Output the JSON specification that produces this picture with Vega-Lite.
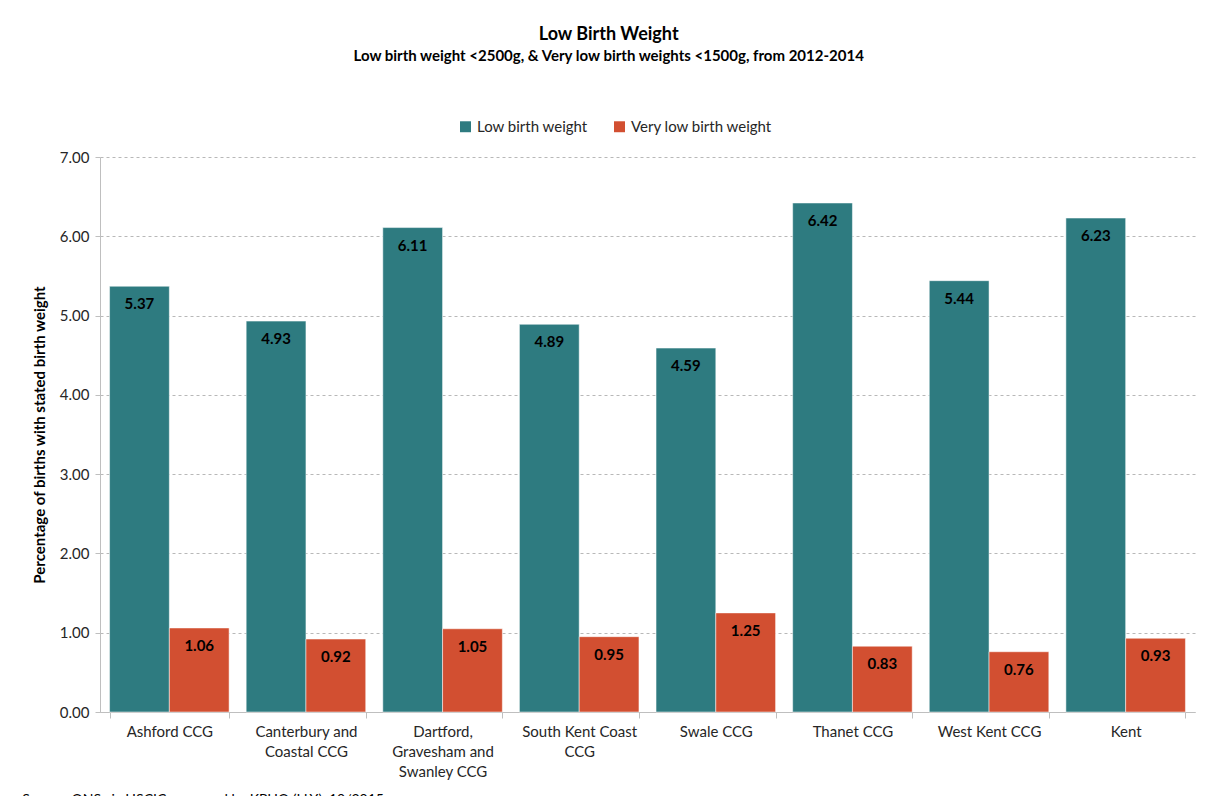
{
  "$schema": "https://vega.github.io/schema/vega-lite/v6.json",
  "background": "white",
  "padding": {"left": 22, "top": 26, "right": 8, "bottom": 10},
  "config": {
    "font": "Lato",
    "view": {"stroke": null},
    "concat": {"spacing": 0}
  },
  "title": {
    "text": "Low Birth Weight",
    "subtitle": "Low birth weight <2500g, & Very low birth weights <1500g, from 2012-2014",
    "anchor": "middle",
    "font": "Lato",
    "fontSize": 18,
    "fontWeight": "bold",
    "color": "#000000",
    "subtitleFont": "Lato",
    "subtitleFontSize": 15,
    "subtitleFontWeight": "bold",
    "subtitleColor": "#000000",
    "subtitlePadding": 5,
    "offset": 55
  },
  "data": {
    "values": [
      {"ccg": "Ashford CCG", "measure": "Low birth weight", "value": 5.37},
      {"ccg": "Ashford CCG", "measure": "Very low birth weight", "value": 1.06},
      {"ccg": "Canterbury and Coastal CCG", "measure": "Low birth weight", "value": 4.93},
      {"ccg": "Canterbury and Coastal CCG", "measure": "Very low birth weight", "value": 0.92},
      {"ccg": "Dartford, Gravesham and Swanley CCG", "measure": "Low birth weight", "value": 6.11},
      {"ccg": "Dartford, Gravesham and Swanley CCG", "measure": "Very low birth weight", "value": 1.05},
      {"ccg": "South Kent Coast CCG", "measure": "Low birth weight", "value": 4.89},
      {"ccg": "South Kent Coast CCG", "measure": "Very low birth weight", "value": 0.95},
      {"ccg": "Swale CCG", "measure": "Low birth weight", "value": 4.59},
      {"ccg": "Swale CCG", "measure": "Very low birth weight", "value": 1.25},
      {"ccg": "Thanet CCG", "measure": "Low birth weight", "value": 6.42},
      {"ccg": "Thanet CCG", "measure": "Very low birth weight", "value": 0.83},
      {"ccg": "West Kent CCG", "measure": "Low birth weight", "value": 5.44},
      {"ccg": "West Kent CCG", "measure": "Very low birth weight", "value": 0.76},
      {"ccg": "Kent", "measure": "Low birth weight", "value": 6.23},
      {"ccg": "Kent", "measure": "Very low birth weight", "value": 0.93}
    ]
  },
  "vconcat": [
    {
      "width": 1095,
      "height": 555,
      "title": {
        "text": "Source:  ONS via HSCIC, prepared by KPHO (LLY), 10/2015",
        "orient": "bottom",
        "anchor": "start",
        "font": "Lato",
        "fontSize": 14,
        "fontWeight": "normal",
        "color": "#000000",
        "offset": -16,
        "dx": -10
      },
      "encoding": {
        "x": {
          "field": "ccg",
          "type": "nominal",
          "sort": null,
          "title": "CCG",
          "scale": {"paddingInner": 0.125, "paddingOuter": 0.07},
          "axis": {
            "labelAngle": 0,
            "labelFontSize": 15,
            "labelColor": "#262626",
            "labelPadding": 6,
            "labelLineHeight": 20,
            "labelExpr": "datum.value == 'Canterbury and Coastal CCG' ? ['Canterbury and', 'Coastal CCG'] : datum.value == 'Dartford, Gravesham and Swanley CCG' ? ['Dartford,', 'Gravesham and', 'Swanley CCG'] : datum.value == 'South Kent Coast CCG' ? ['South Kent Coast', 'CCG'] : datum.value",
            "tickBand": "extent",
            "tickSize": 6,
            "tickColor": "#bfbfbf",
            "domainColor": "#bfbfbf",
            "titleFontSize": 14,
            "titleFontWeight": "bold",
            "titleColor": "#000000",
            "titlePadding": 16
          }
        },
        "xOffset": {"field": "measure", "type": "nominal", "sort": ["Low birth weight", "Very low birth weight"], "scale": {"paddingInner": 0, "paddingOuter": 0}},
        "y": {
          "field": "value",
          "type": "quantitative",
          "title": "Percentage of births with stated birth weight",
          "scale": {"domain": [0, 7], "nice": false},
          "axis": {
            "values": [0, 1, 2, 3, 4, 5, 6, 7],
            "labelOverlap": false,
            "format": ".2f",
            "labelFontSize": 15,
            "labelColor": "#262626",
            "labelPadding": 6,
            "tickSize": 5,
            "tickColor": "#bfbfbf",
            "domainColor": "#bfbfbf",
            "gridColor": "#a6a6a6",
            "gridDash": [3, 3],
            "gridWidth": 0.8,
            "titleFontSize": 15,
            "titleFontWeight": "bold",
            "titleColor": "#000000",
            "titlePadding": 12
          }
        }
      },
      "layer": [
        {
          "mark": {"type": "bar", "stroke": "white", "strokeWidth": 0.5},
          "encoding": {
            "color": {
              "field": "measure",
              "type": "nominal",
              "scale": {"domain": ["Low birth weight", "Very low birth weight"], "range": ["#2e7b80", "#d24f31"]},
              "legend": {
                "orient": "none",
                "legendX": 358,
                "legendY": -38,
                "direction": "horizontal",
                "title": null,
                "symbolType": "square",
                "symbolSize": 120,
                "symbolStrokeWidth": 0,
                "labelFontSize": 15,
                "labelColor": "#262626",
                "columnPadding": 24
              }
            }
          }
        },
        {
          "mark": {"type": "text", "baseline": "middle", "dy": 18, "fontSize": 15, "fontWeight": "bold", "color": "#000000"},
          "encoding": {
            "text": {"field": "value", "type": "quantitative", "format": ".2f"}
          }
        }
      ]
    }
  ]
}
